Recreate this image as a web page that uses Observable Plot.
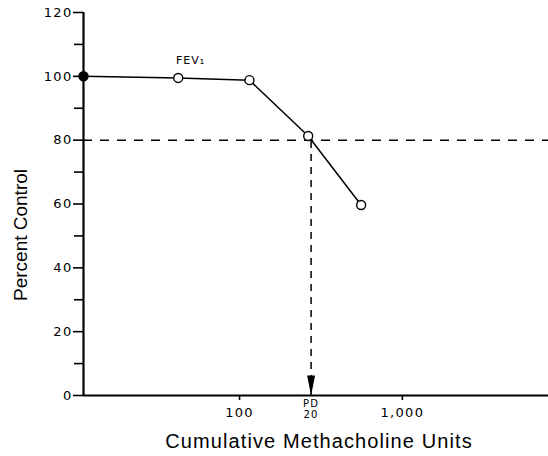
<!DOCTYPE html>
<html><head><meta charset="utf-8">
<script src="https://cdn.jsdelivr.net/npm/d3@7"></script>
<script src="https://cdn.jsdelivr.net/npm/@observablehq/plot@0.6"></script>
<style>
body{margin:0;background:#fff}
</style></head><body><div id="chart"></div>
<script>
// ---- data ----
const doses = [11, 42, 115, 264, 558];
const percentControl = [100, 99.5, 98.8, 81.3, 59.7];
const baselineFilled = [true, false, false, false, false];
const pd20Dose = [275];
const pd20Level = [80];
const xDomain = [11, 7900];
const yDomain = [0, 120];
const xTicks = [100, 1000];
const xTickLabels = ["100", "1,000"];
const yMajorTicks = [0, 20, 40, 60, 80, 100, 120];
const yMinorTicks = [10, 30, 50, 70, 90, 110];
const seriesLabel = ["FEV₁"];
const seriesLabelDose = [50];
const seriesLabelPercent = [105];
const pdLabel = ["PD\n20"];
const xTitle = "Cumulative Methacholine Units";
const yTitle = "Percent Control";

// ---- build ----
const points = doses.map((d, i) => ({dose: d, pct: percentControl[i], filled: baselineFilled[i]}));
const labelRows = seriesLabel.map((t, i) => ({text: t, dose: seriesLabelDose[i], pct: seriesLabelPercent[i]}));
const downArrow = {
  draw(ctx, size) {
    const r = Math.sqrt(size / Math.PI);
    ctx.moveTo(0, 0);
    ctx.lineTo(-r, -5 * r);
    ctx.lineTo(r, -5 * r);
    ctx.closePath();
  }
};

const chart = Plot.plot({
  width: 548,
  height: 456,
  marginLeft: 83,
  marginRight: 0,
  marginTop: 12,
  marginBottom: 61,
  style: {fontFamily: "DejaVu Sans", fontSize: "13px", color: "black", background: "white"},
  x: {type: "log", domain: xDomain},
  y: {domain: yDomain},
  marks: [
    Plot.ruleY(pd20Level, {strokeDasharray: "9,8", strokeWidth: 1.5}),
    Plot.ruleX(pd20Dose, {y1: 0, y2: pd20Level[0], strokeDasharray: "7,6", strokeWidth: 1.5}),
    Plot.dot(pd20Dose, {x: d => d, y: () => 0, symbol: downArrow, r: 4, fill: "black", stroke: null}),
    Plot.line(points, {x: "dose", y: "pct", strokeWidth: 1.5}),
    Plot.axisY({ticks: yMajorTicks, tickSize: 10, tickPadding: 1, label: null, strokeWidth: 1.6}),
    Plot.axisY({ticks: yMinorTicks, tickSize: 9, tickFormat: () => "", label: null, strokeWidth: 1.6}),
    Plot.axisX({ticks: xTicks, tickSize: 5, tickPadding: 7, tickFormat: d => xTickLabels[xTicks.indexOf(d)], label: null, strokeWidth: 1.6}),
    Plot.ruleX([xDomain[0]], {y1: yDomain[0], y2: yDomain[1], strokeWidth: 2.2}),
    Plot.ruleY([yDomain[0]], {x1: xDomain[0], x2: xDomain[1], strokeWidth: 2.2}),
    Plot.dot(points.filter(d => !d.filled), {x: "dose", y: "pct", r: 4.5, fill: "white", stroke: "black", strokeWidth: 1.4}),
    Plot.dot(points.filter(d => d.filled), {x: "dose", y: "pct", r: 4.5, fill: "black", stroke: "black"}),
    Plot.text(labelRows, {x: "dose", y: "pct", text: "text", fontSize: 11}),
    Plot.text(pd20Dose, {x: d => d, y: () => 0, text: () => pdLabel[0], lineAnchor: "top", dy: 4, fontSize: 10, lineHeight: 1.1}),
    Plot.text([xTitle], {frameAnchor: "bottom", text: d => d, dy: 52, dx: 3, fontFamily: "Liberation Sans", fontSize: 20}),
    Plot.text([yTitle], {frameAnchor: "left", textAnchor: "middle", text: d => d, rotate: -90, dx: -63, dy: 31, fontFamily: "Liberation Sans", fontSize: 19})
  ]
});
// letter spacing to mimic the wide typewritten lettering of the original
const sel = d3.select(chart);
sel.selectAll("text").each(function () {
  const t = this.textContent;
  if (t === xTitle) d3.select(this).style("letter-spacing", "1.1px");
  else if (t === seriesLabel[0]) d3.select(this).style("letter-spacing", "1px");
  else if (t !== yTitle) d3.select(this).style("letter-spacing", "1.3px");
});
document.getElementById("chart").appendChild(chart);
</script></body></html>
